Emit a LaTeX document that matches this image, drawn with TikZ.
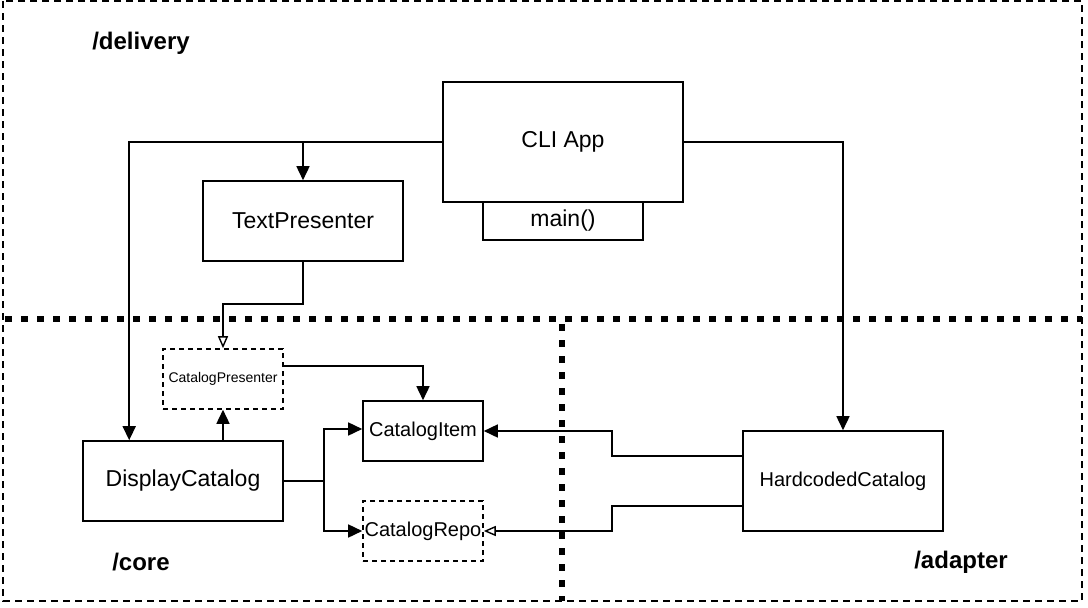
\documentclass[tikz,border=0pt]{standalone}
\usepackage{fontspec}
\setmainfont{Liberation Sans}
\usetikzlibrary{arrows.meta}
\begin{document}
\begin{tikzpicture}[x=1pt,y=-1pt,
  box/.style={draw,line width=1.6pt,rectangle,inner sep=0pt,align=center},
  dbox/.style={box,dashed,dash pattern=on 5pt off 4pt},
  big/.style={font=\fontsize{23}{27}\selectfont},
  mid/.style={font=\fontsize{20}{24}\selectfont},
  small/.style={font=\fontsize{14}{17}\selectfont},
  lbl/.style={font=\fontsize{24}{28}\selectfont\bfseries},
  conn/.style={line width=1.6pt},
  arr/.style={conn,-{Triangle[length=14pt,width=13pt]}},
  oarr/.style={conn,-{Triangle[open,length=12pt,width=10pt,line width=1.4pt]}},
  zone/.style={line width=2pt,dash pattern=on 7pt off 5pt},
  sep/.style={line width=6pt,dash pattern=on 7pt off 9pt}
]
\useasboundingbox (0,0) rectangle (1088,608);
\draw[zone] (3,1) rectangle (1082,601);
\draw[sep] (5,319) -- (1082,319);
\draw[sep] (562,324) -- (562,601);

\node[lbl] (ldel) at (141,43) {/delivery};
\node[lbl] (lcore) at (141,562) {/core};
\node[lbl] (lad) at (961,562) {/adapter};

\node[box,big,minimum width=240pt,minimum height=120pt] (cli) at (563,142) {CLI App};
\node[box,big,minimum width=160pt,minimum height=38pt] (main) at (563,221) {main()};
\node[box,big,minimum width=200pt,minimum height=80pt] (text) at (303,221) {TextPresenter};
\node[dbox,small,minimum width=120pt,minimum height=60pt] (pres) at (223,379) {CatalogPresenter};
\node[box,big,minimum width=200pt,minimum height=80pt] (disp) at (183,481) {DisplayCatalog};
\node[box,mid,minimum width=120pt,minimum height=60pt] (item) at (423,431) {CatalogItem};
\node[dbox,mid,minimum width=120pt,minimum height=60pt] (repo) at (423,531) {CatalogRepo};
\node[box,mid,minimum width=200pt,minimum height=100pt] (hard) at (843,481) {HardcodedCatalog};

\coordinate (j1) at (text.north |- cli.west);
\draw[arr] (cli.west) -| ([xshift=47pt]disp.north west);
\draw[arr] (j1) -- (text.north);
\draw[arr] (cli.east) -| (hard.north);
\draw[oarr] (text.south) -- ++(0,42) -| (pres.north);
\draw[arr] ([yshift=13pt]pres.east) -| (item.north);
\draw[arr] (pres.south |- disp.north) -- (pres.south);
\draw[arr] (disp.east) -- ++(40,0) |- ([yshift=2pt]item.west);
\draw[arr] (disp.east) -- ++(40,0) |- (repo.west);
\draw[arr] ([yshift=25pt]hard.west) -- ++(-130,0) |- (item.east);
\draw[oarr] ([yshift=-25pt]hard.west) -- ++(-130,0) |- (repo.east);
\end{tikzpicture}
\end{document}
